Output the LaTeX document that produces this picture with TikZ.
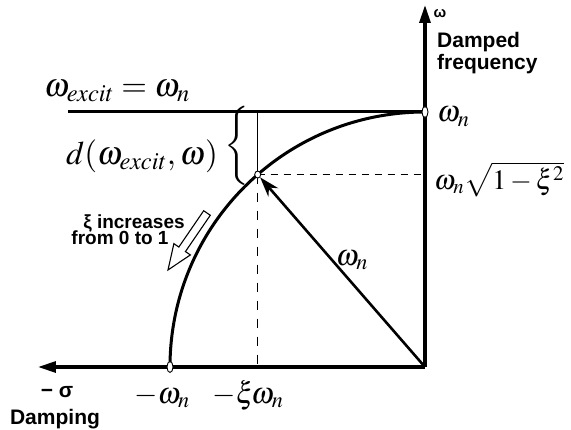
\documentclass[tikz,border=0pt]{standalone}
\usepackage{mathptmx}
\usepackage[no-math]{fontspec}
\setsansfont{Liberation Sans}
\usetikzlibrary{positioning, arrows.meta, calc, decorations.pathreplacing, shapes.geometric}
\tikzset{
  axisline/.style={-{Triangle[length=18pt,width=11pt]}, line width=3.2pt},
  locus/.style={line width=3pt},
  guide/.style={line width=0.7pt},
  guidedash/.style={guide, dash pattern=on 7pt off 6pt},
  polemark/.style={
    draw, fill=white, ellipse, line width=0.9pt,
    minimum width=6pt, minimum height=11pt, inner sep=0pt
  },
  mathlabel/.style={font=\fontsize{30}{34}\selectfont, inner sep=0pt},
  biglabel/.style={font=\fontsize{33}{36}\selectfont, inner sep=0pt},
  sanslabel/.style={
    font=\sffamily\bfseries\fontsize{21}{22}\selectfont,
    inner sep=0pt, align=left
  },
  notelabel/.style={font=\sffamily\bfseries\fontsize{19}{19}\selectfont, inner sep=0pt},
}

\begin{document}
\begin{tikzpicture}[x=1pt, y=1pt]
  \useasboundingbox (-425,-62) rectangle (146,367);

  \coordinate (O) at (0,0);
  \coordinate (wend) at (0,362);
  \coordinate (send) at (-387,0);
  \coordinate (lstart) at (-357,255);
  \coordinate (Q) at (90:255);
  \coordinate (P) at (131:255);

  % axes
  \draw[axisline] (O) -- (wend);
  \draw[axisline] (O) -- (send);

  % excitation line and root locus
  \draw[locus] (lstart) -- (Q);
  \draw[locus] (Q) arc[start angle=90, end angle=180, radius=255];

  % projections of the pole
  \draw[guide] (P |- Q) -- (P);
  \draw[guidedash, dash pattern=on 9pt off 9pt] (P) -- (P |- O);
  \draw[guidedash] (P) -- (P -| O);

  \node[polemark] (ptop) at (Q) {};
  \node[polemark] (pleft) at (-255,0) {};
  \node[polemark, minimum width=6pt, minimum height=7pt] (ppole) at (P) {};

  \draw[line width=2.6pt, -{Stealth[length=20pt,width=13pt]}] (O) -- (ppole);

  \node[biglabel] (brace) at (-188,221)
    {$\left\{\rule[-32pt]{0pt}{64pt}\right.$};

  % hollow arrow along the locus
  \begin{scope}[shift={(-218,154)}, rotate=235.6]
    \draw[line width=1.1pt, fill=white]
      (0,4) -- (44,4) -- (44,10) -- (69,0) -- (44,-10) -- (44,-4) -- (0,-4) -- cycle;
  \end{scope}

  % labels
  \node[biglabel, anchor=base] (lexcit) at (-308,270) {$\omega_{excit}=\omega_n$};
  \node[biglabel, anchor=base] (ldist) at (-283,202) {$d(\omega_{excit},\omega)$};
  \node[mathlabel, anchor=base west] (ltop) at (12,245) {$\omega_n$};
  \node[mathlabel, font=\fontsize{28}{32}\selectfont, anchor=base west] (lpole) at (9,178) {$\omega_n\sqrt{1-\xi^2}$};
  \node[mathlabel, anchor=base] (lradius) at (-73,102) {$\omega_n$};
  \node[mathlabel, anchor=base] (lwn) at (-263,-36) {$-\omega_n$};
  \node[mathlabel, anchor=base] (lxwn) at (-177,-36) {$-\xi\!\omega_n$};

  \node[sanslabel, anchor=base] (lsigma) at (-368,-30) {\textminus\ σ};
  \node[sanslabel, anchor=base] (ldamp) at (-370,-57) {Damping};
  \node[sanslabel, font=\sffamily\bfseries\fontsize{15}{15}\selectfont] (lomega) at (15,353) {ω};
  \node[sanslabel, anchor=north west] (lfreq) at (12,335) {Damped\\frequency};

  \node[notelabel, anchor=base] (lxi) at (-291,139) {ξ increases};
  \node[notelabel, anchor=base] (lfrom) at (-305,122) {from 0 to 1};
\end{tikzpicture}
\end{document}
